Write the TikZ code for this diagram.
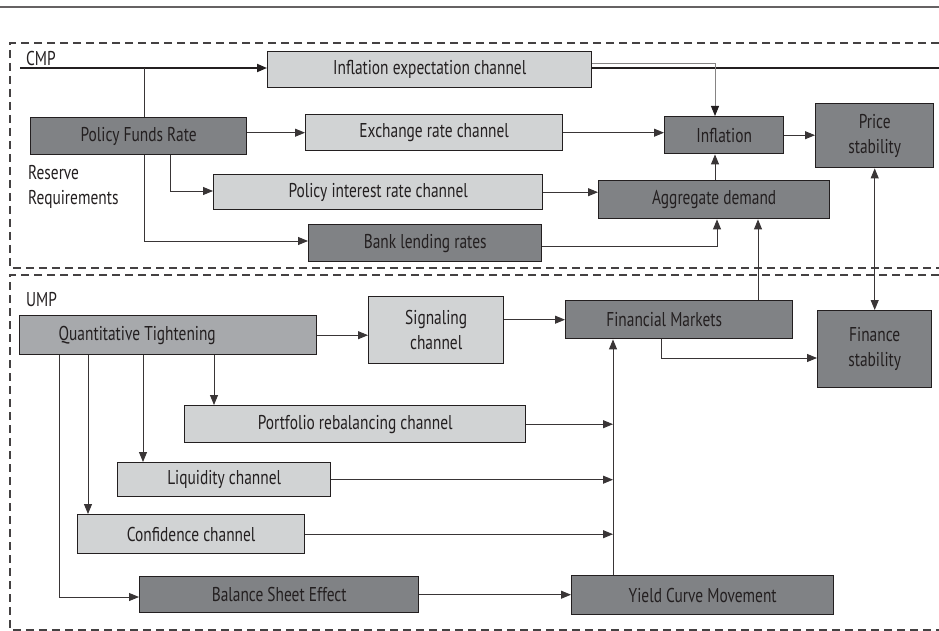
\documentclass[tikz,border=0pt]{standalone}
\usepackage{fontspec}
\setmainfont{PT Sans}[FakeStretch=0.77]
\usetikzlibrary{arrows.meta, positioning}
\definecolor{darkbox}{HTML}{808285}
\definecolor{midbox}{HTML}{A7A9AC}
\definecolor{lightbox}{HTML}{D1D3D4}
\definecolor{ink}{HTML}{231F20}

\begin{document}
\begin{tikzpicture}[x=1pt, y=-1pt, font=\fontsize{20}{25}\selectfont]
    \tikzstyle{block} = [rectangle, draw=ink, line width=1.4pt, anchor=north west,
        inner sep=0pt, text=ink, align=center]
    \tikzstyle{dark} = [block, fill=darkbox]
    \tikzstyle{mid} = [block, fill=midbox]
    \tikzstyle{light} = [block, fill=lightbox]
    \tikzstyle{line} = [draw, line width=0.9pt, ink!90, -{Triangle[length=10pt, width=8pt]}]
    \tikzstyle{plain} = [draw, line width=0.9pt, ink!90, -]
    \tikzstyle{frame} = [draw, line width=1.3pt, ink!85, dash pattern=on 8pt off 5pt]
    \useasboundingbox (0,0) rectangle (939,631);

    \path [draw, line width=1.2pt, ink!70] (0,7) -- (939,7);
    % CMP part
    \path [frame] (939,43) -- (10,43) -- (10,268) -- (939,268);
    \node [anchor=west, inner sep=0pt, text=ink] (cmp) at (26,59) {CMP};
    \node [anchor=west, inner sep=0pt, text=ink, align=left] (rr) at (28,187) {Reserve\\Requirements};

    \node [light, minimum width=324pt, minimum height=36pt] (iec) at (267,51) {Inflation expectation channel};
    \node [dark, minimum width=216pt, minimum height=37pt] (pfr) at (30,117) {Policy Funds Rate};
    \node [light, minimum width=257pt, minimum height=36pt] (exch) at (305,114) {Exchange rate channel};
    \node [dark, minimum width=119pt, minimum height=37pt] (infl) at (664,116) {Inflation};
    \node [dark, minimum width=118pt, minimum height=64pt] (price) at (815,103) {Price\\stability};
    \node [light, minimum width=329pt, minimum height=35pt] (pir) at (213,174) {Policy interest rate channel};
    \node [dark, minimum width=233pt, minimum height=37pt] (blr) at (308,224) {Bank lending rates};
    \node [dark, minimum width=231pt, minimum height=38pt] (agg) at (598,180) {Aggregate demand};
    %
    \coordinate (cmpL) at (20,68);
    \coordinate (cmpR) at (939,68);
    \path [line, line width=1.8pt, ink] (cmpL) -- (cmpL -| iec.west);
    \path [plain, line width=1.8pt, ink] (iec.east |- cmpR) -- (cmpR);
    \coordinate (k1) at (715,63);
    \path [line, ink!55, -{Triangle[length=10pt, width=8pt, color=ink]}] (iec.east |- k1) -- (k1) -- (k1 |- infl.north);
    \coordinate (c1) at (144,68);
    \path [plain] (c1) -- (c1 |- pfr.north);
    \path [line] (pfr.east |- exch.west) -- (exch.west);
    \path [line] (exch.east) -- (exch.east -| infl.west);
    \path [line] (infl.east) -- (infl.east -| price.west);
    \coordinate (p1) at (170,191);
    \path [line] (p1 |- pfr.south) -- (p1) -- (p1 -| pir.west);
    \coordinate (p2) at (144,241);
    \path [line] (p2 |- pfr.south) -- (p2) -- (p2 -| blr.west);
    \path [line] (pir.east) -- (pir.east -| agg.west);
    \coordinate (b1) at (717,246);
    \path [line] (blr.east |- b1) -- (b1) -- (b1 |- agg.south);
    \coordinate (a1) at (715,180);
    \path [line] (a1 |- agg.north) -- (a1 |- infl.south);

    % UMP part
    \path [frame] (939,275) -- (10,275) -- (10,630) -- (939,630);
    \node [anchor=west, inner sep=0pt, text=ink] (ump) at (26,300) {UMP};

    \node [mid, minimum width=297pt, minimum height=39pt] (qt) at (19,315) {\hspace*{-62pt}Quantitative Tightening};
    \node [light, minimum width=135pt, minimum height=67pt] (sig) at (368,296) {Signaling\\channel};
    \node [dark, minimum width=227pt, minimum height=38pt] (fm) at (565,300) {\hspace*{-30pt}Financial Markets};
    \node [dark, minimum width=114pt, minimum height=77pt] (fin) at (817,310) {Finance\\stability};
    \node [light, minimum width=341pt, minimum height=37pt] (prc) at (184,405) {Portfolio rebalancing channel};
    \node [light, minimum width=213pt, minimum height=34pt] (liq) at (117,462) {Liquidity channel};
    \node [light, minimum width=227pt, minimum height=39pt] (conf) at (77,514) {Confidence channel};
    \node [dark, minimum width=279pt, minimum height=36pt] (bse) at (139,576) {Balance Sheet Effect};
    \node [dark, minimum width=262pt, minimum height=39pt] (ycm) at (571,575) {Yield Curve Movement};
    %
    \path [line] (qt.east) -- (qt.east -| sig.west);
    \path [line] (sig.east |- fm.west) -- (fm.west);
    \coordinate (f1) at (758,0);
    \path [line] (f1 |- fm.north) -- (f1 |- agg.south);
    \path [draw, line width=0.9pt, ink!90, {Triangle[length=10pt, width=8pt]}-{Triangle[length=10pt, width=8pt]}]
        (price.south) -- (price.south |- fin.north);
    \coordinate (f2) at (661,358);
    \path [line] (f2 |- fm.south) -- (f2) -- (f2 -| fin.west);
    \coordinate (col) at (613,0);
    \path [line] (col |- ycm.north) -- (col |- fm.south);
    \path [line] (prc.east) -- (prc.east -| col);
    \path [line] (liq.east) -- (liq.east -| col);
    \path [line] (conf.east) -- (conf.east -| col);
    \path [line] (bse.east) -- (bse.east -| ycm.west);
    %
    \coordinate (q1) at (214,0);
    \path [line] (q1 |- qt.south) -- (q1 |- prc.north);
    \coordinate (q2) at (143,0);
    \path [line] (q2 |- qt.south) -- (q2 |- liq.north);
    \coordinate (q3) at (88,0);
    \path [line] (q3 |- qt.south) -- (q3 |- conf.north);
    \coordinate (q4) at (59,597);
    \path [line] (q4 |- qt.south) -- (q4) -- (q4 -| bse.west);
\end{tikzpicture}
\end{document}
